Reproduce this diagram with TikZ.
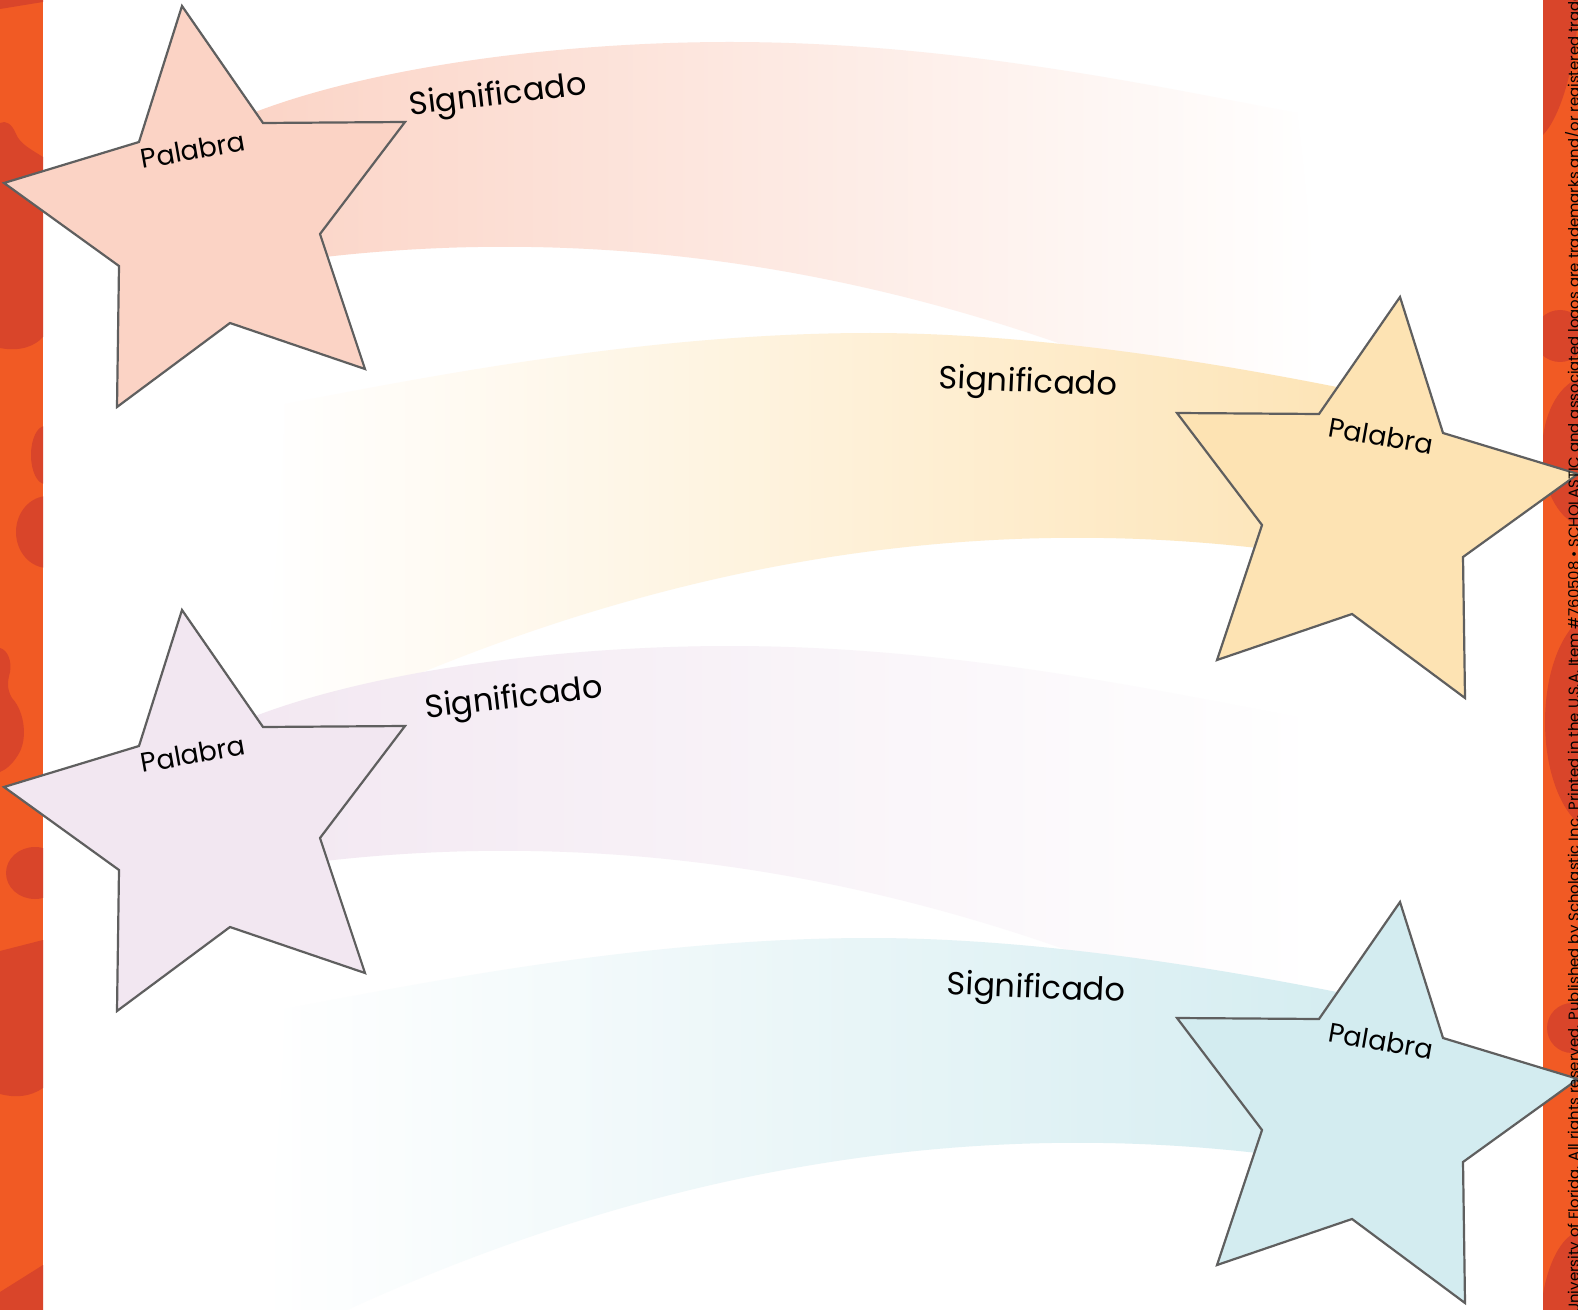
\documentclass[tikz,border=0pt]{standalone}
\usepackage{fontspec}
\setmainfont{Poppins}
\definecolor{orng}{HTML}{F15A24}
\definecolor{orngdark}{HTML}{D9452A}
\definecolor{starline}{HTML}{5F5F5F}
\definecolor{pinkS}{HTML}{FBD3C5}
\definecolor{yellowS}{HTML}{FDE3B3}
\definecolor{purpleS}{HTML}{F2E7F1}
\definecolor{blueS}{HTML}{D3ECF0}
\tikzset{
  starshape/.style={draw=starline, line width=1.1pt, line join=miter},
  sigtext/.style={font=\fontsize{16}{19}\selectfont, inner sep=0pt, text=black},
  paltext/.style={font=\fontsize{13.5}{16}\selectfont, inner sep=0pt, text=black},
  footer/.style={font=\fontsize{7.45}{9}\selectfont, inner sep=0pt, text=black},
  blob/.style={fill=orngdark, draw=none},
}
\newcommand{\drawstar}[1]{%
  \draw[starshape, fill=#1] (182,6) -- (263,123) -- (405,122) -- (320,234) -- (365,369) -- (230,323) -- (117,407) -- (119,266) -- (4,183) -- (139,142) -- cycle;}
\newcommand{\bandleft}[1]{%
  \shade[left color=#1, middle color=#1!60!white, right color=white] (220,127) .. controls (340,70) and (550,42) .. (730,42) .. controls (950,42) and (1150,85) .. (1297,113) .. controls (1308,200) and (1318,320) .. (1320,455) .. controls (980,282) and (640,216) .. (300,260) -- cycle;}
\newcommand{\bandright}[1]{%
  \shade[left color=white, middle color=#1!60!white, right color=#1] (1400,400) .. controls (1250,368) and (1050,333) .. (870,333) .. controls (650,333) and (430,376) .. (285,404) .. controls (283,491) and (272,620) .. (262,746) .. controls (602,573) and (942,507) .. (1282,551) -- cycle;}
\begin{document}
\begin{tikzpicture}[x=0.5pt,y=-0.5pt]
\useasboundingbox (0,0) rectangle (1578,1310);
\clip (0,0) rectangle (1578,1310);
\fill[white] (0,0) rectangle (1578,1310);

% side strips
\fill[orng] (0,0) rectangle (43,1310);
\fill[orng] (1543,0) rectangle (1578,1310);
\begin{scope}
  \clip (0,0) rectangle (43,1310);
  \fill[blob] (0,0) -- (43,0) -- (43,2) -- (0,9) -- cycle;
  \fill[blob] (0,123) .. controls (6,120) and (12,124) .. (16,134) .. controls (20,144) and (32,150) .. (43,157) -- (43,337) .. controls (35,346) and (20,352) .. (0,348) -- cycle;
  \fill[blob] (45,455) ellipse [x radius=14, y radius=29];
  \fill[blob] (48,532) ellipse [x radius=32, y radius=36];
  \fill[blob] (0,648) .. controls (8,650) and (12,662) .. (10,672) .. controls (8,680) and (6,688) .. (12,698) .. controls (25,712) and (28,740) .. (18,755) .. controls (12,765) and (5,770) .. (0,772) -- cycle;
  \fill[blob] (35,873) ellipse [x radius=29, y radius=26];
  \fill[blob] (0,951) -- (43,940) -- (43,1088) .. controls (30,1097) and (15,1098) .. (0,1094) -- cycle;
  \fill[blob] (0,1292) -- (43,1265) -- (43,1310) -- (0,1310) -- cycle;
\end{scope}
\begin{scope}
  \clip (1543,0) rectangle (1578,1310);
  \fill[blob] (1543,0) -- (1543,135) .. controls (1562,115) and (1576,60) .. (1578,13) -- (1578,0) -- cycle;
  \fill[blob] (1560,336) circle [radius=26];
  \fill[blob] (1590,452) ellipse [x radius=48, y radius=76];
  \fill[blob] (1600,722) ellipse [x radius=55, y radius=110];
  \fill[blob] (1572,1028) circle [radius=25];
  \fill[blob] (1585,1330) ellipse [x radius=45, y radius=100];
\end{scope}

% tails of the shooting stars
\bandleft{pinkS}
\bandright{yellowS}
\begin{scope}[shift={(0,604)}]
  \bandleft{purpleS}
\end{scope}
\begin{scope}[shift={(0,605)}]
  \bandright{blueS}
\end{scope}

% stars
\drawstar{pinkS}
\begin{scope}[shift={(1582,291)}, xscale=-1]
  \drawstar{yellowS}
\end{scope}
\begin{scope}[shift={(0,604)}]
  \drawstar{purpleS}
\end{scope}
\begin{scope}[shift={(1582,896)}, xscale=-1]
  \drawstar{blueS}
\end{scope}

% labels
\node[sigtext, rotate=6.6] (sig1) at (498,97) {Significado};
\node[paltext, rotate=10] (pal1) at (193,150) {Palabra};
\node[sigtext, rotate=-2.5] (sig2) at (1028,384) {Significado};
\node[paltext, rotate=-10] (pal2) at (1381,436) {Palabra};
\node[sigtext, rotate=6.6] (sig3) at (514,700) {Significado};
\node[paltext, rotate=10] (pal3) at (193,754) {Palabra};
\node[sigtext, rotate=-2.5] (sig4) at (1036,990) {Significado};
\node[paltext, rotate=-10] (pal4) at (1381,1041) {Palabra};

% legal line
\node[footer, rotate=90, anchor=base west] (legal) at (1579,1314) {University of Florida. All rights reserved. Published by Scholastic Inc. Printed in the U.S.A. Item \#760508 • SCHOLASTIC and associated logos are trademarks and/or registered trademarks of Scholastic Inc.};
\end{tikzpicture}
\end{document}
